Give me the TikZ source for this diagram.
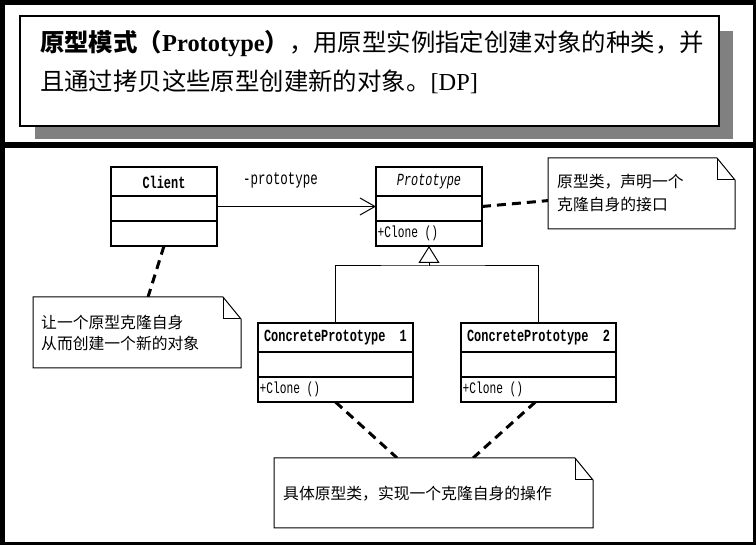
\documentclass[tikz,border=0pt]{standalone}
\usepackage{fontspec}
\setmainfont{Liberation Serif}
\setmonofont{Liberation Mono}
\newfontfamily\cjk{Noto Sans CJK SC}
\newfontfamily\umlmono[FakeStretch=0.7]{Liberation Mono}
\usetikzlibrary{arrows.meta,calc}
\definecolor{shadowgray}{HTML}{808080}
\tikzset{
  umlbox/.style={draw, line width=1.3pt, fill=white, inner sep=0pt, outer sep=0pt, anchor=north west},
  umlline/.style={line width=1.3pt},
  conn/.style={line width=1pt},
  notebox/.style={inner sep=0pt, outer sep=0pt, anchor=north west},
  noteline/.style={line width=1pt, fill=white},
  dashline/.style={line width=3pt, dash pattern=on 9pt off 6pt},
  bannertext/.style={anchor=base west, inner sep=0pt, font=\fontsize{24.4}{28}\selectfont},
  notetext/.style={anchor=west, inner sep=0pt, font=\cjk\fontsize{15.8}{18}\selectfont},
  classname/.style={inner sep=0pt, font=\umlmono\bfseries\fontsize{17}{19}\selectfont},
  oper/.style={anchor=west, inner sep=0pt, font=\umlmono\fontsize{16}{18}\selectfont},
}
\newcommand\drawnote[1]{%
  \draw[noteline] (#1.south west) -- (#1.north west) -- ([xshift=-18pt]#1.north east)
     -- ([yshift=-22pt]#1.north east) -- (#1.south east) -- cycle;
  \draw[noteline, fill=none] ([xshift=-18pt]#1.north east) |- ([yshift=-22pt]#1.north east);
}
\newcommand\compart[2]{%
  \draw[umlline] (#1.west |- 0,#2) -- (#1.east |- 0,#2);
}
\begin{document}
\begin{tikzpicture}[x=1pt,y=-1pt]
\useasboundingbox (0,0) rectangle (756,545);
\fill[black] (0,0) rectangle (756,545);
\fill[white] (5,5) rectangle (753,142);
\fill[white] (5,148) rectangle (753,542);

% banner
\fill[shadowgray] (35,31) rectangle (733,139);
\node[draw, fill=white, line width=1.6pt, inner sep=0pt, outer sep=0pt, anchor=north west,
      minimum width=699pt, minimum height=110pt] (banner) at (20,16) {};
\node[bannertext] (t1) at (40,52) {{\cjk\bfseries 原型模式（}\textbf{Prototype}{\cjk\bfseries ）}{\cjk ，用原型实例指定创建对象的种类，并}};
\node[bannertext] (t2) at (40,91) {{\cjk 且通过拷贝这些原型创建新的对象。}[DP]};

% notes (placeholders)
\node[notebox, minimum width=187pt, minimum height=71pt] (note1) at (548,158) {};
\node[notebox, minimum width=208pt, minimum height=71pt] (note2) at (33,297) {};
\node[notebox, minimum width=319pt, minimum height=70pt] (note3) at (274,458) {};

% classes
\node[umlbox, minimum width=106pt, minimum height=79pt] (client) at (111,167) {};
\compart{client}{196}\compart{client}{221}
\node[umlbox, minimum width=106pt, minimum height=79pt] (proto) at (376,167) {};
\compart{proto}{196}\compart{proto}{221}
\node[umlbox, minimum width=155pt, minimum height=79pt] (cp1) at (258,323) {};
\compart{cp1}{352}\compart{cp1}{377}
\node[umlbox, minimum width=155pt, minimum height=79pt] (cp2) at (461,323) {};
\compart{cp2}{352}\compart{cp2}{377}

\draw[dashline] (proto.east) -- ($(note1.north west)!0.6!(note1.south west)$);
\draw[dashline] (client.south) -- ($(note2.north west)!0.553!(note2.north east)$);
\draw[dashline] (cp1.south) -- ($(note3.north west)!0.386!(note3.north east)$);
\draw[dashline] ($(cp2.south west)!0.48!(cp2.south east)$) -- ($(note3.north west)!0.624!(note3.north east)$);

\drawnote{note1}
\drawnote{note2}
\drawnote{note3}

% class texts
\node[classname] (clientname) at (164,182) {Client};
\node[inner sep=0pt, font=\umlmono\itshape\fontsize{17}{19}\selectfont] (protoname) at (429,182) {Prototype};
\node[oper] (protoop) at (377.5,233) {+Clone ()};
\node[classname] (cp1name) at (335.5,338) {ConcretePrototype\ \ 1};
\node[oper] (cp1op) at (259.5,389) {+Clone ()};
\node[classname] (cp2name) at (538.5,338) {ConcretePrototype\ \ 2};
\node[oper] (cp2op) at (462.5,389) {+Clone ()};

% association
\draw[conn, -{Straight Barb[length=15pt, width=17pt, line width=1pt]}] (client.east) -- (proto.west);
\node[inner sep=0pt, font=\umlmono\fontsize{17.8}{20}\selectfont] (assoc) at (280.5,180) {-prototype};

% generalization
\coordinate (hub) at (429,266);
\draw[conn] (cp1.north) |- (hub) -| (cp2.north);
\draw[conn, -{Triangle[length=17pt, width=21pt, fill=white, line width=1pt]}] (hub) -- (proto.south);

% note texts
\node[notetext] (n1a) at (557,182) {原型类，声明一个};
\node[notetext] (n1b) at (557,205) {克隆自身的接口};
\node[notetext] (n2a) at (41,323) {让一个原型克隆自身};
\node[notetext] (n2b) at (41,343) {从而创建一个新的对象};
\node[notetext] (n3a) at (283,494) {具体原型类，实现一个克隆自身的操作};
\end{tikzpicture}
\end{document}
